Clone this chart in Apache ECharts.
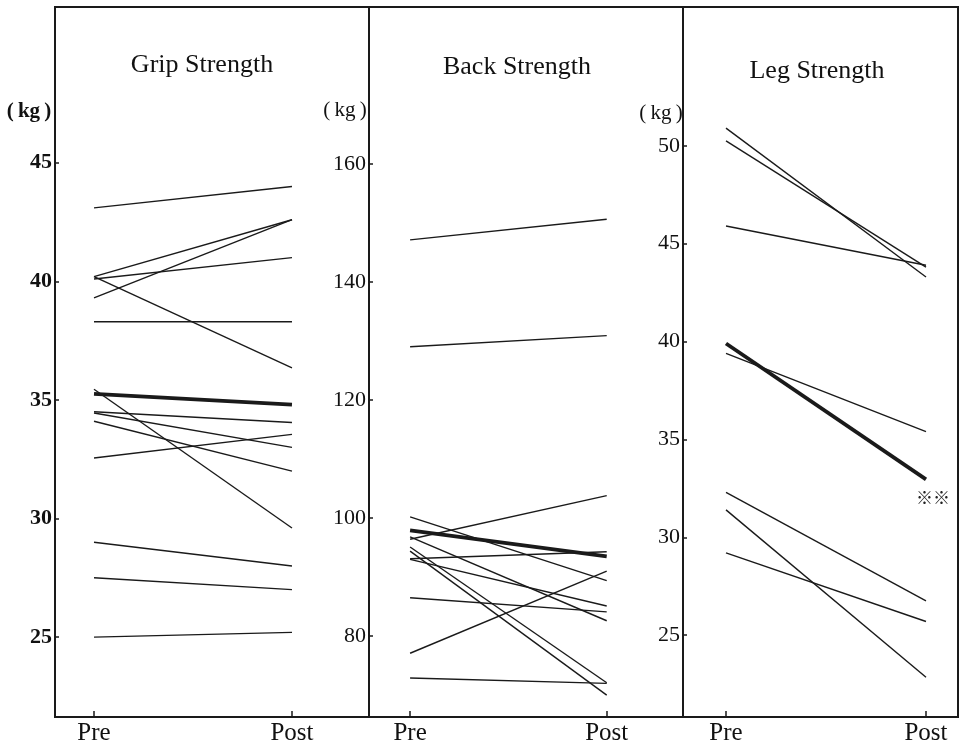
<!DOCTYPE html>
<html>
<head>
<meta charset="utf-8">
<title>Grip / Back / Leg Strength</title>
<script src="https://cdn.jsdelivr.net/npm/echarts@6.0.0/dist/echarts.min.js"></script>
<style>
    html, body { margin: 0; padding: 0; background: #fff; }
    #echarts_dom_id { width: 962px; height: 746px; }
</style>
</head>
<body>
<div id="echarts_dom_id"></div>
<script>
// x categories (0 = Pre, 1 = Post)
var phases = ["Pre", "Post"];

// Grip Strength (kg)
var gripPre = [43.1, 40.2, 39.3, 40.1, 40.2, 38.3, 35.45, 34.5, 34.45, 34.1, 32.55, 29.0, 27.5, 25.0];
var gripPost = [44.0, 42.6, 42.6, 41.0, 36.35, 38.3, 29.6, 34.05, 33.0, 32.0, 33.55, 28.0, 27.0, 25.2];
var gripMean = [35.26, 34.8];
var gripTicks = [25, 30, 35, 40, 45];

// Back Strength (kg)
var backPre = [147.1, 129.0, 100.2, 96.4, 96.8, 95.1, 94.4, 93.1, 93.0, 86.5, 77.1, 72.9];
var backPost = [150.6, 130.9, 89.4, 103.8, 82.6, 72.1, 70.0, 94.3, 85.1, 84.1, 91.0, 72.0];
var backMean = [97.9, 93.5];
var backTicks = [80, 100, 120, 140, 160];

// Leg Strength (kg)
var legPre = [50.9, 50.25, 45.9, 39.4, 32.3, 31.4, 29.2];
var legPost = [43.3, 43.8, 43.9, 35.4, 26.75, 22.85, 25.7];
var legMean = [39.9, 32.96];
var legTicks = [25, 30, 35, 40, 45, 50];

var ink = "#1a1a1a";
var serif = '"Liberation Serif", "DejaVu Serif", serif';

// panel layout: grid box + axis ranges
var panels = [
    { left: 55, width: 314, xMin: -0.197, xMax: 1.389, yMin: 21.63, yMax: 51.57, ticks: gripTicks, bold: true },
    { left: 369, width: 314, xMin: -0.209, xMax: 1.388, yMin: 66.3, yMax: 186.55, ticks: backTicks, bold: false },
    { left: 683, width: 275, xMin: -0.215, xMax: 1.16, yMin: 20.82, yMax: 57.09, ticks: legTicks, bold: false }
];

var grids = [], xAxes = [], yAxes = [], series = [];

panels.forEach(function (p, k) {
    grids.push({
        left: p.left, top: 7, width: p.width, height: 710,
        show: true, borderColor: ink, borderWidth: 2,
        containLabel: false, outerBoundsMode: "none"
    });
    xAxes.push({
        type: "value", gridIndex: k, min: p.xMin, max: p.xMax,
        axisLine: { show: true, onZero: false, lineStyle: { color: ink, width: 2 } },
        axisTick: { show: true, inside: true, length: 6, customValues: [0, 1], lineStyle: { color: ink, width: 1.5 } },
        axisLabel: {
            show: true, customValues: [0, 1], margin: 4,
            formatter: function (v) { return phases[Math.round(v)]; },
            fontFamily: serif, fontSize: 25, color: "#111"
        },
        splitLine: { show: false }
    });
    yAxes.push({
        type: "value", gridIndex: k, min: p.yMin, max: p.yMax,
        axisLine: { show: true, onZero: false, lineStyle: { color: ink, width: 2 } },
        axisTick: { show: true, inside: true, length: 4, customValues: p.ticks, lineStyle: { color: ink, width: 1.5 } },
        axisLabel: {
            show: true, customValues: p.ticks, margin: 3,
            fontFamily: serif, fontSize: 22, color: "#111",
            fontWeight: p.bold ? "bold" : "normal"
        },
        splitLine: { show: false }
    });
});

var pairLines = function (pre, post, k, width) {
    return pre.map(function (v, i) {
        return {
            type: "line", xAxisIndex: k, yAxisIndex: k,
            data: [[0, v], [1, post[i]]],
            symbol: "none", silent: true,
            lineStyle: { color: ink, width: width }
        };
    });
};

series = series
    .concat(pairLines(gripPre, gripPost, 0, 1.4))
    .concat(pairLines([gripMean[0]], [gripMean[1]], 0, 3.8))
    .concat(pairLines(backPre, backPost, 1, 1.4))
    .concat(pairLines([backMean[0]], [backMean[1]], 1, 3.8))
    .concat(pairLines(legPre, legPost, 2, 1.4));

// leg mean line with the significance mark (※※) at Post
series.push({
    type: "line", xAxisIndex: 2, yAxisIndex: 2, symbol: "none", silent: true,
    lineStyle: { color: ink, width: 3.8 },
    data: [[0, legMean[0]], [1, legMean[1]]],
    endLabel: {
        show: true, formatter: "\u203B\u203B", distance: 0,
        offset: [-10, 18], fontSize: 17, fontWeight: "bold", color: "#222",
        fontFamily: '"Noto Sans CJK JP", sans-serif'
    }
});

var textEl = function (txt, x, y, size, weight) {
    return {
        type: "text", x: x, y: y, silent: true,
        style: {
            text: txt, fill: "#111",
            font: (weight || "normal") + " " + size + "px " + serif,
            textAlign: "center", textVerticalAlign: "middle"
        }
    };
};

var myChart = echarts.init(document.getElementById("echarts_dom_id"), null, { renderer: "canvas" });
myChart.setOption({
    backgroundColor: "#fff",
    animation: false,
    grid: grids,
    xAxis: xAxes,
    yAxis: yAxes,
    series: series,
    graphic: [
        textEl("Grip Strength", 202, 65, 26),
        textEl("Back Strength", 517, 67, 26),
        textEl("Leg Strength", 817, 71, 26),
        textEl("(\u2009kg\u2009)", 29, 112, 21, "bold"),
        textEl("(\u2009kg\u2009)", 345, 110, 21),
        textEl("(\u2009kg\u2009)", 661, 113, 21)
    ]
});
</script>
</body>
</html>
